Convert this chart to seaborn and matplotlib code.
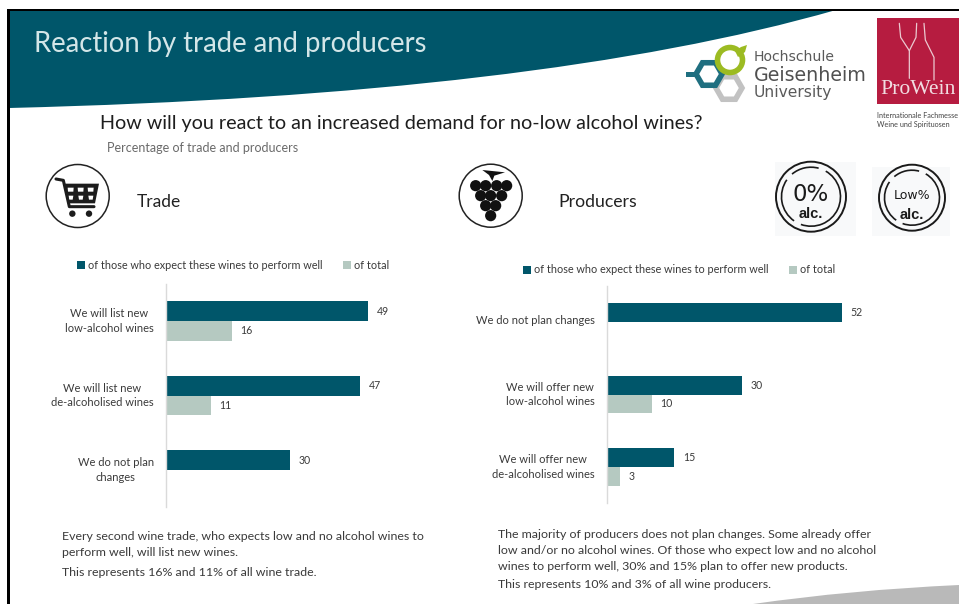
import numpy as np
import pandas as pd
import matplotlib
matplotlib.use("Agg")
import matplotlib.pyplot as plt
from matplotlib.patches import Circle, Polygon, Rectangle, Arc, PathPatch, RegularPolygon
from matplotlib.path import Path
from matplotlib.lines import Line2D
from matplotlib.transforms import ScaledTranslation
import seaborn as sns

# ---- survey values -------------------------------------------------------
SERIES_EXPECT = "of those who expect these wines to perform well"
SERIES_TOTAL = "of total"

trade_reactions = ["We will list new\nlow-alcohol wines",
                   "We will list new\nde-alcoholised wines",
                   "We do not plan\nchanges"]
trade_expect = [49, 47, 30]
trade_total = [16, 11, np.nan]

producer_reactions = ["We do not plan changes",
                      "We will offer new\nlow-alcohol wines",
                      "We will offer new\nde-alcoholised wines"]
producer_expect = [52, 30, 15]
producer_total = [np.nan, 10, 3]

# ---- wording -------------------------------------------------------------
slide_title = "Reaction by trade and producers"
question = "How will you react to an increased demand for no-low alcohol wines?"
subtitle = "Percentage of trade and producers"
trade_notes = ["Every second wine trade, who expects low and no alcohol wines to",
               "perform well, will list new wines.",
               "This represents 16% and 11% of all wine trade."]
producer_notes = ["The majority of producers does not plan changes. Some already offer",
                  "low and/or no alcohol wines. Of those who expect low and no alcohol",
                  "wines to perform well, 30% and 15% plan to offer new products.",
                  "This represents 10% and 3% of all wine producers."]

# ---- palette -------------------------------------------------------------
TEAL = "#00566A"
SAGE = "#B5C9C1"
INK = "#3A3A3A"
W, H = 959, 604

sns.set_theme(style="white")
plt.rcParams["font.family"] = ["Lato", "DejaVu Sans"]

fig = plt.figure(figsize=(W / 100, H / 100), dpi=100, facecolor="white")

# Full-slide layer addressed in pixels for artwork and free text.
bg = fig.add_axes([0, 0, 1, 1], zorder=0)
bg.set_xlim(0, W)
bg.set_ylim(H, 0)
bg.axis("off")


def put(x, y, s, size, color=INK, ha="left", va="center", **kw):
    return bg.text(x, y, s, fontsize=size, color=color, ha=ha, va=va, **kw)


# Header band with curved lower edge
band = Path([(9, 10), (836, 10), (540, 95), (9, 108), (9, 10)],
            [Path.MOVETO, Path.LINETO, Path.CURVE3, Path.CURVE3, Path.CLOSEPOLY])
bg.add_patch(PathPatch(band, fc=TEAL, ec="none"))

# Grey corner swoosh
swoosh = Path([(753, 604), (850, 590), (959, 585), (959, 604), (753, 604)],
              [Path.MOVETO, Path.CURVE3, Path.CURVE3, Path.LINETO, Path.CLOSEPOLY])
bg.add_patch(PathPatch(swoosh, fc="#B9B9B9", ec="none"))

# Slide frame on the top and left edges
bg.add_patch(Rectangle((0, 0), W, 8.5, fc="white", ec="none"))
bg.add_patch(Rectangle((7, 8.5), W - 7, 2.5, fc="black", ec="none"))
bg.add_patch(Rectangle((7, 8.5), 2.5, H - 8.5, fc="black", ec="none"))

put(34, 44, slide_title, 19.8, color="#D3E6E8")
put(100, 124, question, 14.25, color="#1E1E1E")
put(107, 148, subtitle, 9.0, color="#6A6A6A")
put(137, 202, "Trade", 12.5, color="#222222")
put(558, 202, "Producers", 12.7, color="#222222")

# Shopping cart icon
bg.add_patch(Circle((77.7, 196), 31.5, fc="white", ec="#222222", lw=1.1))
ox, oy = 30, 155
def zc(pts):
    return [(ox + a / 3, oy + b / 3) for a, b in pts]
bg.add_patch(Polygon(zc([(103, 86), (207, 86), (195, 145), (113, 145)]), fc="#1C1C1C", ec="none"))
for cx in (122, 152, 182):
    bg.add_patch(Polygon(zc([(cx - 9, 98), (cx + 9, 98), (cx + 8, 110), (cx - 8, 110)]), fc="white", ec="none"))
    bg.add_patch(Polygon(zc([(cx - 7, 122), (cx + 8, 122), (cx + 6, 134), (cx - 5, 134)]), fc="white", ec="none"))
bg.add_line(Line2D(*zip(*zc([(78, 72), (100, 76), (118, 155), (192, 155)])), color="#1C1C1C", lw=2.2))
for cx in (127, 177):
    bg.add_patch(Circle(zc([(cx, 176)])[0], 3.2, fc="#1C1C1C", ec="none"))

# Grape cluster icon
bg.add_patch(Circle((490.7, 195.7), 31.5, fc="white", ec="#222222", lw=1.1))
ox, oy = 450, 155
bg.add_patch(Polygon(zc([(97, 45), (165, 52), (133, 62), (127, 78), (117, 60)]), fc="#111111", ec="none"))
for gx, gy in [(77, 92), (107, 92), (140, 92), (170, 92), (92, 122), (122, 122),
               (155, 122), (107, 152), (137, 152), (122, 182)]:
    bg.add_patch(Circle(zc([(gx, gy)])[0], 5.6, fc="#111111", ec="none"))


# Round label badges
def badge(bx, cx, cy, r, top, top_size):
    bg.add_patch(Rectangle((bx[0], bx[1]), bx[2], bx[3], fc="#F8F9FA", ec="none"))
    bg.add_patch(Circle((cx, cy), r, fc="none", ec="#1A1A1A", lw=1.4))
    for a, b in [(-60, 110), (125, 215), (230, 285)]:
        bg.add_patch(Arc((cx, cy), 2 * (r - 5.5), 2 * (r - 5.5), theta1=a, theta2=b, ec="#1A1A1A", lw=1.2))
    put(cx, cy - 2.5, top, top_size, color="#1A1A1A", ha="center", family="DejaVu Sans")
    put(cx, cy + 17, "alc.", 10.5, color="#1A1A1A", ha="center", family="Liberation Sans", weight="bold")


badge((775, 162, 81, 74), 811, 196.7, 35, "0%", 16.5)
badge((872, 167, 78, 69), 912, 197.7, 33, "Low%", 9.0)

# University mark: three interlocked hexagons and a leaf
bg.add_patch(RegularPolygon((729, 88), 6, radius=13, orientation=np.pi / 6, fc="none", ec="#C2C2C2", lw=4.0))
bg.add_patch(Rectangle((686, 71.5), 9, 5, fc="#1F6F80", ec="none"))
bg.add_patch(RegularPolygon((709, 74), 6, radius=13, orientation=np.pi / 6, fc="none", ec="#1F6F80", lw=4.0))
bg.add_patch(Circle((730, 60), 12.5, fc="none", ec="#9CBB22", lw=4.0))
bg.add_patch(Polygon([(735, 51), (741, 47), (747, 45), (745, 52), (738, 57)], fc="#9CBB22", ec="none"))
put(754, 57, "Hochschule", 10.1, color="#5A5A5A", family="DejaVu Sans")
put(754, 75.5, "Geisenheim", 13.7, color="#505050", family="DejaVu Sans", weight="medium")
put(754, 93, "University", 11.2, color="#5A5A5A", family="DejaVu Sans")

# Trade-fair logo with two bottle outlines
bg.add_patch(Rectangle((877, 18), 82, 85.5, fc="#B61C40", ec="none"))
ox, oy = 480, 0
for outline in ([(1258, 70), (1262, 112), (1288, 152), (1288, 235)],
                [(1310, 70), (1308, 112), (1288, 152)],
                [(1332, 70), (1336, 120), (1362, 172), (1362, 240)]):
    bg.add_line(Line2D(*zip(*zc(outline)), color="#EBC9D0", lw=0.9))
put(880, 90, "ProWein", 15.6, color="#F1DCE1", family="Liberation Serif")
put(877, 115.5, "Internationale Fachmesse", 5.2, color="#444444")
put(877, 124.5, "Weine und Spirituosen", 5.2, color="#444444")

# Commentary beneath each chart
for y, line in zip([536, 552, 572], trade_notes):
    put(62, y, line, 8.9)
for y, line in zip([534, 550, 566, 585], producer_notes):
    put(497.5, y, line, 8.88)


def reaction_chart(rect_px, px_per_unit, reactions, expect, total, legend_y, legend_x):
    left, top, height = rect_px
    x_max = 56
    width = x_max * px_per_unit
    ax = fig.add_axes([left / W, 1 - (top + height) / H, width / W, height / H], zorder=2)
    ax.patch.set_alpha(0)

    frame = pd.DataFrame({
        "reaction": reactions * 2,
        "measure": [SERIES_EXPECT] * 3 + [SERIES_TOTAL] * 3,
        "share": list(expect) + list(total),
    })
    sns.barplot(data=frame, y="reaction", x="share", hue="measure", order=reactions,
                hue_order=[SERIES_EXPECT, SERIES_TOTAL], palette=[TEAL, SAGE],
                orient="h", width=0.525, gap=0, saturation=1, errorbar=None,
                edgecolor="none", linewidth=0, ax=ax)

    for bars in ax.containers:
        ax.bar_label(bars, fmt="%g", padding=6.0, fontsize=7.6, color=INK)

    ax.set_xlim(0, x_max)
    ax.set_xlabel("")
    ax.set_ylabel("")
    ax.xaxis.set_visible(False)
    ax.tick_params(axis="y", length=0, pad=8.6, labelsize=8.0, labelcolor=INK)
    # Lift the category labels slightly so they sit centred on their bar pairs
    lift = ScaledTranslation(0, 2 / 72, fig.dpi_scale_trans)
    for label in ax.get_yticklabels():
        label.set_multialignment("center")
        label.set_linespacing(1.4)
        label.set_transform(label.get_transform() + lift)
    sns.despine(ax=ax, bottom=True)
    ax.spines["left"].set_color("#DADADA")
    ax.spines["left"].set_linewidth(1.0)

    ax.legend(loc="center left", bbox_to_anchor=(legend_x / W, 1 - legend_y / H),
              bbox_transform=fig.transFigure, ncol=2, frameon=False, fontsize=7.8,
              labelcolor=INK, handlelength=0.75, handleheight=0.75, handletextpad=0.3,
              columnspacing=1.85, borderpad=0, borderaxespad=0)
    return ax


reaction_chart((165.6, 283.75, 223.5), 4.14, trade_reactions, trade_expect, trade_total, 265.5, 77)
reaction_chart((606.6, 286, 217), 4.52, producer_reactions, producer_expect, producer_total, 270, 523)

fig.savefig("out.png", dpi=100, facecolor="white")
